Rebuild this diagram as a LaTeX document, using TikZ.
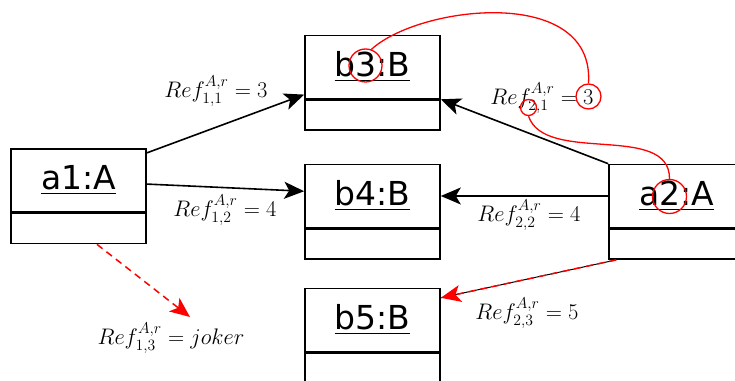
\RequirePackage{fix-cm}
\documentclass[tikz,border=0pt]{standalone}
\usepackage{amsmath}
\usepackage{fontspec}
\newfontfamily\objfont{DejaVu Sans}
\usetikzlibrary{arrows.meta, positioning, calc}

\tikzset{
  objhead/.style={draw, line width=1.6pt, minimum width=135pt, minimum height=63pt,
    inner sep=0pt, font=\objfont\fontsize{33}{33}\selectfont},
  objbody/.style={draw, line width=1.6pt, minimum width=135pt, minimum height=30pt,
    inner sep=0pt, below=0pt of #1},
  link/.style={line width=1.6pt, -{Stealth[length=20pt,width=17pt,inset=5pt]}},
  jokerlink/.style={red, line width=1.5pt, dash pattern=on 7pt off 5pt,
    -{Stealth[length=20pt,width=17pt,inset=5pt]}},
  hilite/.style={draw=red, circle, line width=1.3pt, inner sep=0pt, minimum size=#1},
  reflabel/.style={font=\fontsize{22.5}{22.5}\selectfont, inner sep=0pt}
}

\begin{document}
\begin{tikzpicture}[x=1pt, y=1pt]
  \useasboundingbox (0,0) rectangle (735,380);
  \clip (0,0) rectangle (735,380);

  % ===== objects =====
  \node[objhead] (a1) at (78.5,199.5) {\underline{a1:A}};
  \node[objbody=a1] (a1body) {};

  \node[objhead] (b3) at (372.5,313) {\underline{b3:B}};
  \node[objbody=b3] (b3body) {};

  \node[objhead] (b4) at (372.5,184) {\underline{b4:B}};
  \node[objbody=b4] (b4body) {};

  \node[objhead] (b5) at (372.5,60) {\underline{b5:B}};
  \node[objbody=b5] (b5body) {};

  \node[objhead] (a2) at (676.5,184) {\underline{a2:A}};
  \node[objbody=a2] (a2body) {};

  % ===== references of a1 =====
  \coordinate (joker) at (190,63);
  \draw[link] (a1.22) -- (b3.202);
  \draw[link] (a1.-3) -- (b4.176);
  \draw[jokerlink] ($(a1body.south)+(18.5,0)$) -- (joker);

  \node[reflabel] (l11) at (216,289) {$Ref_{1,1}^{A,r} = 3$};
  \node[reflabel] (l12) at (225,170) {$Ref_{1,2}^{A,r} = 4$};
  \node[reflabel] (l13) at (171,42) {$Ref_{1,3}^{A,r} = joker$};

  % ===== references of a2 =====
  \draw[link] (a2.north west) -- (b3.south east);
  \draw[link] (a2.west) -- (b4.east);
  \draw[line width=1pt] ($(a2body.south west)+(8,0)$) -- (b5.18);
  \draw[jokerlink] ($(a2body.south west)+(8,0)$) -- (b5.18);

  \node[reflabel] (l21) at (542,282) {$Ref_{2,1}^{A,r} = 3$};
  \node[reflabel] (l22) at (529,165) {$Ref_{2,2}^{A,r} = 4$};
  \node[reflabel] (l23) at (527,67) {$Ref_{2,3}^{A,r} = 5$};

  % ===== highlighted indices =====
  \node[hilite=33pt] (cb3) at (365.5,314.5) {};
  \node[hilite=25pt] (cl21) at (588.5,283.5) {};
  \node[hilite=16pt] (cs21) at (528.5,272.5) {};
  \node[hilite=34pt] (ca2) at (669.5,183.5) {};

  \draw[red, line width=1.3pt] (cb3.70) .. controls (420,375) and (595,395) .. (cl21.north);
  \draw[red, line width=1.3pt] (cs21.south) .. controls (545,215) and (670,258) .. (ca2.north);
\end{tikzpicture}
\end{document}
